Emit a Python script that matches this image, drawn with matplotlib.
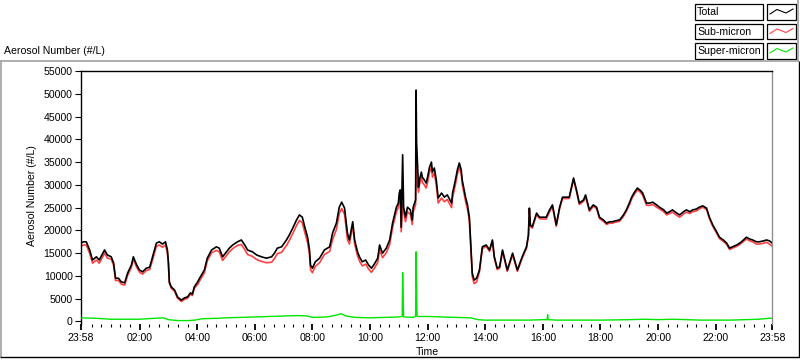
import matplotlib
matplotlib.use("Agg")
import matplotlib.pyplot as plt
from matplotlib.lines import Line2D
from matplotlib.patches import Rectangle

plt.rcParams['font.family'] = ['Liberation Sans', 'DejaVu Sans']
plt.rcParams['font.size'] = 7.5

# ---------------- data ----------------
total_times = ["23:58","00:03","00:09","00:16","00:22","00:30","00:36","00:47","00:53","01:01",
 "01:06","01:10","01:16","01:22","01:29","01:35","01:43","01:47","01:54","02:00",
 "02:06","02:14","02:21","02:27","02:35","02:41","02:48","02:54","02:58","03:00",
 "03:02","03:06","03:13","03:19","03:27","03:34","03:40","03:46","03:50","03:54",
 "04:01","04:05","04:11","04:15","04:21","04:30","04:40","04:46","04:53","05:01",
 "05:07","05:14","05:24","05:32","05:39","05:45","05:55","06:04","06:14","06:24",
 "06:35","06:41","06:47","06:56","07:06","07:12","07:19","07:27","07:33","07:39",
 "07:44","07:50","07:54","07:56","08:00","08:06","08:15","08:25","08:36","08:42",
 "08:50","08:56","09:01","09:07","09:13","09:17","09:24","09:28","09:34","09:38",
 "09:44","09:51","09:57","10:03","10:09","10:16","10:20","10:26","10:34","10:41",
 "10:47","10:55","10:59","11:01","11:03","11:05","11:08","11:10","11:14","11:18",
 "11:24","11:28","11:30","11:35","11:36","11:37","11:41","11:43","11:47","11:49",
 "11:53","11:57","12:00","12:04","12:08","12:10","12:14","12:18","12:22","12:29",
 "12:35","12:41","12:50","12:52","12:58","13:02","13:06","13:10","13:12","13:19",
 "13:23","13:27","13:31","13:33","13:37","13:42","13:48","13:54","14:02","14:09",
 "14:15","14:19","14:25","14:30","14:36","14:46","14:57","15:07","15:17","15:26",
 "15:30","15:32","15:34","15:38","15:47","15:53","16:01","16:07","16:14","16:20",
 "16:28","16:35","16:41","16:49","16:55","17:04","17:10","17:16","17:25","17:29",
 "17:37","17:45","17:52","17:58","18:06","18:13","18:19","18:25","18:31","18:40",
 "18:48","18:54","19:01","19:05","19:11","19:17","19:24","19:28","19:36","19:42",
 "19:49","19:57","20:03","20:12","20:18","20:24","20:30","20:39","20:45","20:53",
 "20:59","21:06","21:12","21:20","21:26","21:33","21:41","21:47","21:54","22:02",
 "22:08","22:16","22:23","22:29","22:35","22:44","22:50","22:56","23:04","23:11",
 "23:17","23:25","23:31","23:40","23:46","23:52","23:58"]

total = [17200,17500,17500,15700,13500,14200,13500,15700,14600,14200,
 12800,9500,9500,8700,8500,10600,12400,14200,12400,11300,
 10900,11700,11900,14200,17200,17500,17000,17500,15700,13100,
 8700,7600,6900,5400,4700,5200,5400,6300,6000,7600,
 8700,9500,10600,11300,13900,15700,16400,16100,14200,15300,
 16100,16800,17500,17900,16800,15700,15300,14600,14200,13900,
 14200,15000,16100,16400,17900,19000,20500,22300,23400,22900,
 20800,18500,15700,12400,11700,13100,13900,15700,16400,19400,
 21600,25100,26200,24900,19400,17900,21900,17900,15300,14200,
 13100,13500,12400,11700,12600,13900,16800,15000,16100,17900,
 21600,25100,26000,28200,28900,20700,36600,25100,22900,25100,
 24500,22300,25100,26700,50800,39400,29500,31100,32800,31700,
 31100,30400,31700,33900,35000,32800,33700,31100,27100,28200,
 27300,27800,26000,28200,31100,33300,34800,33300,31100,27300,
 25600,22900,15000,10600,9100,9500,11300,16400,16800,15700,
 17900,14200,11700,12000,15700,11300,15000,11300,14200,16400,
 19000,24900,21200,20800,23800,22900,22900,22900,24500,25600,
 21200,25100,27300,27300,27300,31500,28900,26000,26700,27800,
 24500,25600,25100,22900,22300,21600,21900,21900,22100,22300,
 23400,24500,26200,27300,28400,29300,28700,28200,26000,26000,
 26200,25600,25100,24500,23800,24100,24500,23800,23400,24100,
 24500,24100,24500,24700,25100,25400,24900,22900,21200,19700,
 18500,17900,17200,16100,16400,16800,17200,17700,18500,18100,
 17900,17500,17500,17700,17900,17700,17200]

sub_micron = [16500,16800,16800,15000,12800,13500,12800,15000,13900,13700,
 12300,9000,9000,8200,8000,10100,11900,13700,11900,10800,
 10400,11200,11400,13500,16500,16800,16300,16800,15000,12800,
 8400,7300,6600,5100,4400,4900,5100,6000,5700,7300,
 8100,8900,10000,10700,13300,15100,15600,15300,13400,14500,
 15300,16000,16700,16900,15800,14700,14300,13600,13200,12900,
 13000,13800,14900,15200,16700,17800,19300,21100,22200,21700,
 19600,17300,14700,11400,10700,12100,12900,14700,15400,18000,
 20200,23700,24800,23500,18000,17000,21000,17000,14400,13300,
 12200,12600,11500,10800,11700,12900,15800,14000,15100,16900,
 20600,24100,25000,27200,27900,19700,25900,24100,21900,24100,
 23500,21300,24100,25600,35500,31400,28400,30000,31700,30600,
 30000,29300,30600,32800,33900,31700,32600,30000,26000,27100,
 26300,26800,25000,27200,30100,32400,33900,32400,30200,26400,
 24700,22000,14200,9800,8300,8700,10900,16000,16500,15400,
 17600,13900,11400,11700,15400,11000,14700,11000,13900,16100,
 18700,24600,20900,20500,23500,22600,22500,22500,24100,25300,
 20900,24800,27000,27000,27000,31200,28600,25700,26400,27500,
 24200,25300,24800,22600,22000,21300,21600,21600,21800,22000,
 23100,24200,25800,26900,28000,28900,28300,27700,25500,25500,
 25700,25100,24700,24100,23400,23700,24000,23300,22900,23600,
 24000,23700,24100,24300,24700,25100,24600,22600,20900,19400,
 18200,17600,16900,15800,16100,16500,16900,17400,18100,17700,
 17500,17000,17000,17200,17400,17000,16500]

super_times = ["23:58","00:30","01:00","01:30","02:00","02:30","02:50","03:00","03:20","03:40",
 "03:55","04:10","04:40","05:00","05:30","06:00","06:30","07:00","07:30","07:50",
 "08:00","08:30","08:50","09:00","09:10","09:30","10:00","10:30","11:00","11:07",
 "11:08","11:09","11:10","11:30","11:35","11:36","11:37","11:38","12:00","12:30",
 "13:00","13:30","13:45","14:00","14:30","15:00","15:30","16:00","16:09","16:10",
 "16:11","16:30","17:00","18:00","19:00","19:30","20:00","20:30","21:00","21:30",
 "22:00","22:30","23:00","23:30","23:50","23:58"]

super_micron = [800,700,500,500,500,700,800,400,200,200,
 300,600,700,800,900,1000,1100,1200,1300,1200,
 900,1000,1400,1700,1200,900,800,900,1000,1100,
 10700,5500,1000,900,1200,15300,8000,1100,1100,1000,
 900,800,400,300,300,300,300,400,400,1500,
 400,300,300,300,400,500,400,500,400,300,
 300,300,400,500,700,700]

tick_labels = ["23:58","02:00","04:00","06:00","08:00","10:00","12:00",
               "14:00","16:00","18:00","20:00","22:00","23:58"]
series_names = ["Total", "Sub-micron", "Super-micron"]
series_colors = ["#000000", "#ff4040", "#00e600"]


def to_hours(times):
    out = []
    for i, s in enumerate(times):
        h, m = s.split(":")
        v = int(h) + int(m) / 60.0
        if i == 0 and v > 12:
            v -= 24
        out.append(v)
    return out


t_total = to_hours(total_times)
t_super = to_hours(super_times)

W, H = 800, 361
fig = plt.figure(figsize=(W / 100, H / 100), dpi=100, facecolor="white")


def fx(x):
    return x / W


def fy(y):
    return 1 - y / H


ax = fig.add_axes([fx(81), fy(323.5), (772.3 - 81) / W, (323.5 - 71) / H])
ax.set_facecolor("white")

ax.plot(t_total, sub_micron, color=series_colors[1], lw=1.2, zorder=2)
ax.plot(t_total, total, color=series_colors[0], lw=1.2, zorder=3)
ax.plot(t_super, super_micron, color=series_colors[2], lw=1.0, zorder=4)

start = -2 / 60
ax.set_xlim(start, 24 + start)
ax.set_ylim(-440, 55000)

ax.set_yticks(range(0, 55001, 5000))
ax.set_yticklabels([str(v) for v in range(0, 55001, 5000)])
major_x = [start] + list(range(2, 23, 2)) + [24 + start]
ax.set_xticks(major_x)
ax.set_xticklabels(tick_labels)
minor_x = [h + k / 3 for h in range(0, 24) for k in range(3)
           if (h + k / 3) > 0.1 and (h + k / 3) < 23.95 and not (k == 0 and h % 2 == 0)]
ax.set_xticks(minor_x, minor=True)

ax.tick_params(axis="y", direction="out", length=4, width=0.8, pad=2, colors="black", labelsize=7.6)
ax.tick_params(axis="x", which="major", direction="out", length=4.5, width=1.3, pad=2.5, labelsize=7.6)
ax.tick_params(axis="x", which="minor", direction="out", length=2.2, width=0.8)

ax.spines["left"].set_color("black")
ax.spines["left"].set_linewidth(1.0)
ax.spines["top"].set_color("black")
ax.spines["top"].set_linewidth(1.0)
ax.spines["right"].set_color("#909090")
ax.spines["right"].set_linewidth(1.0)
ax.spines["bottom"].set_visible(False)

# texts
fig.text(fx(4), fy(51), "Aerosol Number (#/L)", ha="left", va="center", fontsize=7.6)
fig.text(fx(32), fy(196), "Aerosol Number (#/L)", ha="center", va="center", rotation=90, fontsize=7.6)
fig.text(fx(427), fy(352), "Time", ha="center", va="center", fontsize=7.6)

# panel frame
def fline(x0, y0, x1, y1, color, lw=1.0):
    fig.add_artist(Line2D([fx(x0), fx(x1)], [fy(y0), fy(y1)], color=color, lw=lw,
                          transform=fig.transFigure, solid_capstyle="butt"))

fline(0, 61, 799, 61, "#a0a0a0", 1.2)
fline(798, 0, 798, 61, "#a0a0a0", 1.2)
fline(0.7, 61, 0.7, 357, "#a0a0a0", 1.2)
fline(0, 357, 800, 357, "black", 1.0)
fline(799.3, 61, 799.3, 357, "black", 1.0)

# legend
row_tops = [4.5, 24, 43.5]
for name, color, top in zip(series_names, series_colors, row_tops):
    fig.add_artist(Rectangle((fx(695), fy(top + 15)), 68 / W, 15 / H, fill=False,
                             edgecolor="black", lw=0.9, transform=fig.transFigure))
    fig.add_artist(Rectangle((fx(767), fy(top + 15)), 29 / W, 15 / H, fill=False,
                             edgecolor="black", lw=0.9, transform=fig.transFigure))
    fig.text(fx(697), fy(top + 7.8), name, ha="left", va="center", fontsize=7.6)
    xs = [770, 777, 786, 793]
    ys = [top + 9.5, top + 5, top + 8.5, top + 4.5]
    fig.add_artist(Line2D([fx(v) for v in xs], [fy(v) for v in ys], color=color, lw=0.8,
                          transform=fig.transFigure))

fig.savefig("out.png", dpi=100, facecolor="white")
